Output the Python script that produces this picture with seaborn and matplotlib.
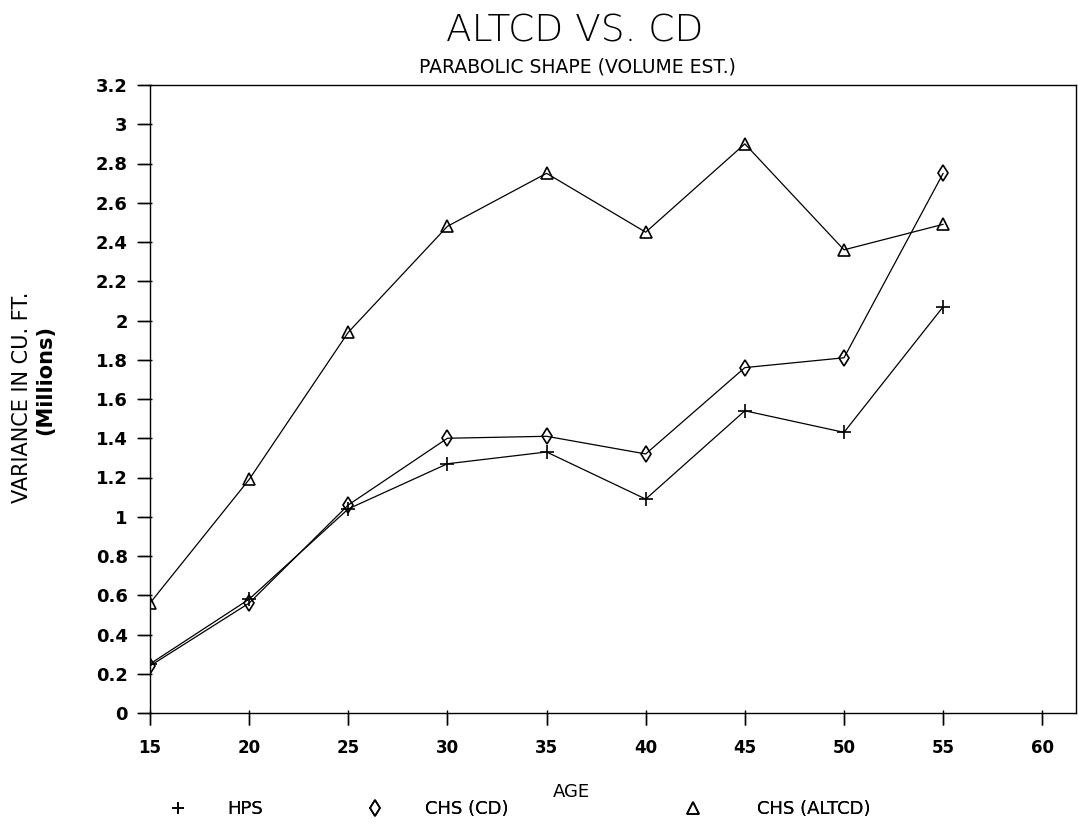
import matplotlib
matplotlib.use("Agg")
import matplotlib.pyplot as plt
from matplotlib.lines import Line2D
import seaborn as sns
import pandas as pd

ages = [15, 20, 25, 30, 35, 40, 45, 50, 55]
hps = [0.25, 0.58, 1.04, 1.27, 1.33, 1.09, 1.54, 1.43, 2.07]
chs_cd = [0.24, 0.56, 1.06, 1.40, 1.41, 1.32, 1.76, 1.81, 2.75]
chs_altcd = [0.56, 1.19, 1.94, 2.48, 2.75, 2.45, 2.90, 2.36, 2.49]
series_names = ["HPS", "CHS (CD)", "CHS (ALTCD)"]
x_ticks = [15, 20, 25, 30, 35, 40, 45, 50, 55, 60]
y_ticks = [0, 0.2, 0.4, 0.6, 0.8, 1, 1.2, 1.4, 1.6, 1.8, 2, 2.2, 2.4, 2.6, 2.8, 3, 3.2]
y_tick_labels = ["0", "0.2", "0.4", "0.6", "0.8", "1", "1.2", "1.4", "1.6", "1.8",
                 "2", "2.2", "2.4", "2.6", "2.8", "3", "3.2"]

df = pd.DataFrame({
    "age": ages * 3,
    "value": hps + chs_cd + chs_altcd,
    "series": [series_names[0]] * len(ages) + [series_names[1]] * len(ages) + [series_names[2]] * len(ages),
})

sns.set_theme(style="ticks", rc={"text.color": "black", "axes.labelcolor": "black",
                                 "xtick.color": "black", "ytick.color": "black",
                                 "axes.edgecolor": "black"})
plt.rcParams['font.family'] = ['DejaVu Sans']

fig = plt.figure(figsize=(10.83, 8.27), dpi=100)
ax = fig.add_axes([150 / 1083, 1 - 713 / 827, (1076 - 150) / 1083, (713 - 85) / 827])

markers = {series_names[0]: "+", series_names[1]: "d", series_names[2]: "^"}
msizes = {series_names[0]: 10, series_names[1]: 8.5, series_names[2]: 9}
for n in series_names:
    sub = df[df["series"] == n]
    sns.lineplot(data=sub, x="age", y="value", color="black", ax=ax,
                 linewidth=0.9, marker=markers[n], markersize=msizes[n],
                 markerfacecolor="none", markeredgecolor="black",
                 markeredgewidth=1.2, legend=False)

ax.set_xlim(15, 61.7)
ax.set_ylim(0, 3.2)
ax.set_xticks(x_ticks)
ax.set_yticks(y_ticks)
ax.set_yticklabels(y_tick_labels)
for lab in ax.get_xticklabels():
    lab.set_fontweight("bold")
    lab.set_fontsize(12)
for lab in ax.get_yticklabels():
    lab.set_fontweight("bold")
    lab.set_fontsize(13)
ax.xaxis.set_tick_params(which="major", direction="out", length=8.5, width=1.0,
                         color="black", bottom=True, pad=10)
ax.yaxis.set_tick_params(which="major", direction="out", length=9, width=1.0,
                         color="black", left=True, pad=7)

# explicit tick marks at the tick positions (outward from the spines)
ax_h_px = 713 - 85
ax_w_px = 1076 - 150
ax.vlines(x_ticks, -12 / ax_h_px, 3 / ax_h_px, transform=ax.get_xaxis_transform(),
          colors="black", linewidth=1.0, clip_on=False, zorder=5)
ax.hlines(y_ticks, -13 / ax_w_px, 2 / ax_w_px, transform=ax.get_yaxis_transform(),
          colors="black", linewidth=1.0, clip_on=False, zorder=5)

for s in ax.spines.values():
    s.set_visible(True)
    s.set_color("black")
    s.set_linewidth(1.0)
ax.set_xlabel("")
ax.set_ylabel("")
ax.grid(False)

fig.text(575 / 1083, 1 - 31 / 827, "ALTCD VS. CD", ha="center", va="center",
         fontsize=27, fontweight=200)
fig.text(577 / 1083, 1 - 67 / 827, "PARABOLIC SHAPE (VOLUME EST.)", ha="center",
         va="center", fontsize=13.5)
fig.text(22 / 1083, 1 - 397 / 827, "VARIANCE IN CU. FT.", rotation=90, ha="center",
         va="center", fontsize=15)
fig.text(45 / 1083, 1 - 380 / 827, "(Millions)", rotation=90, ha="center",
         va="center", fontsize=15, fontweight="bold")
fig.text(571 / 1083, 1 - 792 / 827, "AGE", ha="center", va="center", fontsize=13)

# legend entries: (marker centre x px, text start x px)
leg_pos = [(178, 227), (375, 425), (693, 757)]
fs = 13
em_px = fs * 100 / 72.0
for n, (mx, tx) in zip(series_names, leg_pos):
    h = Line2D([], [], color="black", marker=markers[n], linestyle="none",
               markersize=8, markerfacecolor="none", markeredgewidth=1.2)
    start = mx - 0.5 * em_px
    pad = (tx - (start + em_px)) / em_px
    lg = fig.legend([h], [n], loc="center left", frameon=False,
                    bbox_to_anchor=(start / 1083, 1 - 809 / 827),
                    handlelength=1.0, handletextpad=pad, borderpad=0,
                    borderaxespad=0, prop={"size": fs})
    fig.add_artist(lg)

fig.savefig("out.png", dpi=100, facecolor="white")
